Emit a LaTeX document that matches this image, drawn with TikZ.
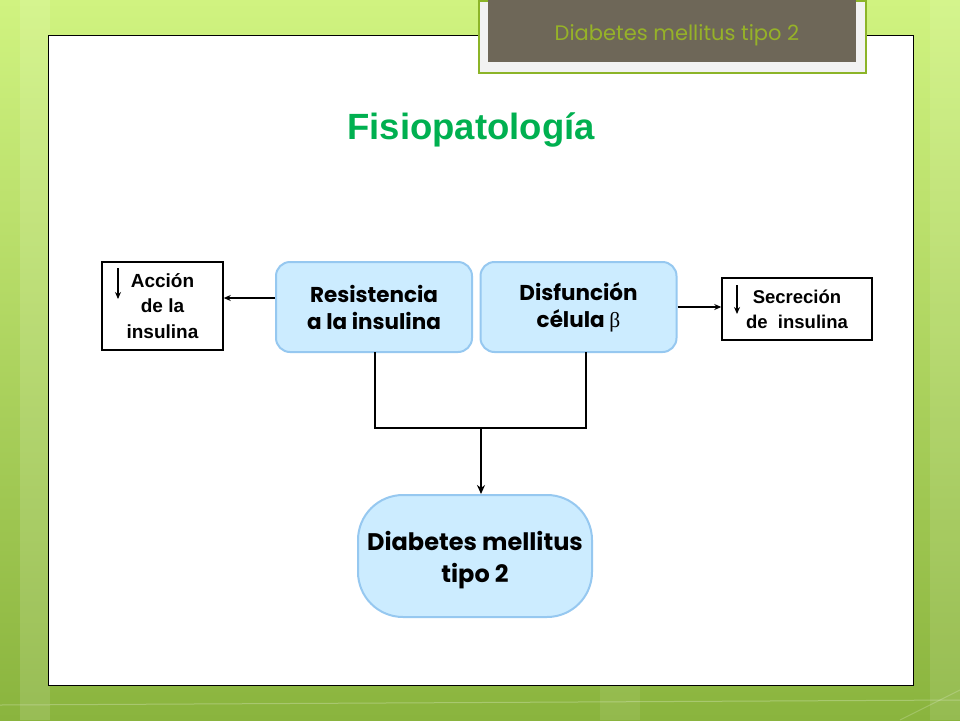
\documentclass[tikz,border=0pt]{standalone}
\usepackage{fontspec}
\setmainfont{Liberation Sans}
\newfontfamily\cg{Poppins}
\newfontfamily\symf{Liberation Serif}
\usetikzlibrary{arrows.meta}
\definecolor{bgtop}{RGB}{208,243,128}
\definecolor{bgbot}{RGB}{138,180,62}
\definecolor{taupe}{RGB}{110,103,88}
\definecolor{olive}{RGB}{150,178,40}
\definecolor{framegreen}{RGB}{140,180,40}
\definecolor{titlegreen}{RGB}{0,176,80}
\definecolor{boxfill}{RGB}{204,236,255}
\definecolor{boxline}{RGB}{150,200,240}
\tikzset{
  bluebox/.style={draw=boxline, line width=2pt, fill=boxfill, rounded corners=14pt,
    minimum width=196pt, minimum height=90pt, align=center, inner sep=0pt,
    font=\cg\bfseries\fontsize{21.5}{27}\selectfont},
  whitebox/.style={draw=black, line width=1.5pt, fill=white, align=center, inner sep=0pt,
    font=\bfseries\fontsize{19}{25.5}\selectfont},
  conn/.style={line width=2.5pt, draw=black},
  thin arrow/.style={line width=1.4pt, -{Stealth[length=7pt,width=6pt]}},
}
\begin{document}
\begin{tikzpicture}[x=1pt,y=-1pt]
\useasboundingbox (0,0) rectangle (960,720);
% background
\shade[top color=bgtop, bottom color=bgbot] (0,0) rectangle (960,720);
\fill[white, opacity=0.12] (20,0) rectangle (50,720);
\fill[white, opacity=0.10] (930,0) rectangle (960,720);
\fill[white, opacity=0.08] (600,685) rectangle (640,720);
\draw[white, opacity=0.25, line width=1pt] (0,705) -- (960,700);
\draw[white, opacity=0.20, line width=1pt] (900,720) -- (960,690);
% white panel
\node[draw=black, line width=1pt, fill=white, minimum width=865pt, minimum height=650pt, inner sep=0pt, anchor=north west] (panel) at (48,35) {};
% header tab
\node[draw=framegreen, line width=2pt, fill=white!95!black, minimum width=387pt, minimum height=72pt, inner sep=0pt, anchor=north west] (tabframe) at (478,0) {};
\node[fill=taupe, minimum width=368pt, minimum height=62pt, inner sep=0pt, anchor=north west] (tab) at (488,0) {};
\node[text=olive, font=\cg\fontsize{21}{24}\selectfont] (tabtext) at (677,35) {Diabetes mellitus tipo 2};
% title
\node[text=titlegreen, font=\bfseries\fontsize{36.5}{40}\selectfont] (title) at (471,130) {Fisiopatología};
% main boxes
\node[bluebox] (res) at (374,307) {Resistencia\\a la insulina};
\node[bluebox] (dis) at (578.5,307) {Disfunción\\célula {\symf\mdseries β}};
\node[whitebox, minimum width=121pt, minimum height=88pt] (acc) at (162.5,306) {Acción\\de la\\insulina};
\node[whitebox, minimum width=150pt, minimum height=62pt, font=\bfseries\fontsize{18.5}{25}\selectfont] (sec) at (797,309) {Secreción\\de\ \ insulina};
\node[draw=boxline, line width=2pt, fill=boxfill, rounded corners=45pt, minimum width=234pt, minimum height=122pt, inner sep=0pt] (dm) at (475,556) {};
\node[align=center, inner sep=0pt, font=\cg\bfseries\fontsize{24}{32}\selectfont] (dmtext) at (475,560) {Diabetes mellitus\\tipo 2};
% small down arrows inside boxes
\coordinate (a1) at (118,268); \coordinate (a2) at (118,299);
\draw[thin arrow] (a1) -- (a2);
\coordinate (b1) at (737,285); \coordinate (b2) at (737,314);
\draw[thin arrow] (b1) -- (b2);
% side connectors
\draw[thin arrow] (res.west |- 0,298) -- (acc.east |- 0,298);
\draw[thin arrow] (dis.east |- 0,307) -- (sec.west |- 0,307);
% joining lines
\coordinate (j1) at (375,428);
\coordinate (j2) at (586,428);
\coordinate (jm) at (481,428);
\draw[conn, line cap=rect] (res.south -| j1) -- (j1) -- (j2) -- (dis.south -| j2);
\draw[conn, -{Stealth[length=9pt,width=8pt]}] (jm) -- (dm.north -| jm);
\end{tikzpicture}
\end{document}
